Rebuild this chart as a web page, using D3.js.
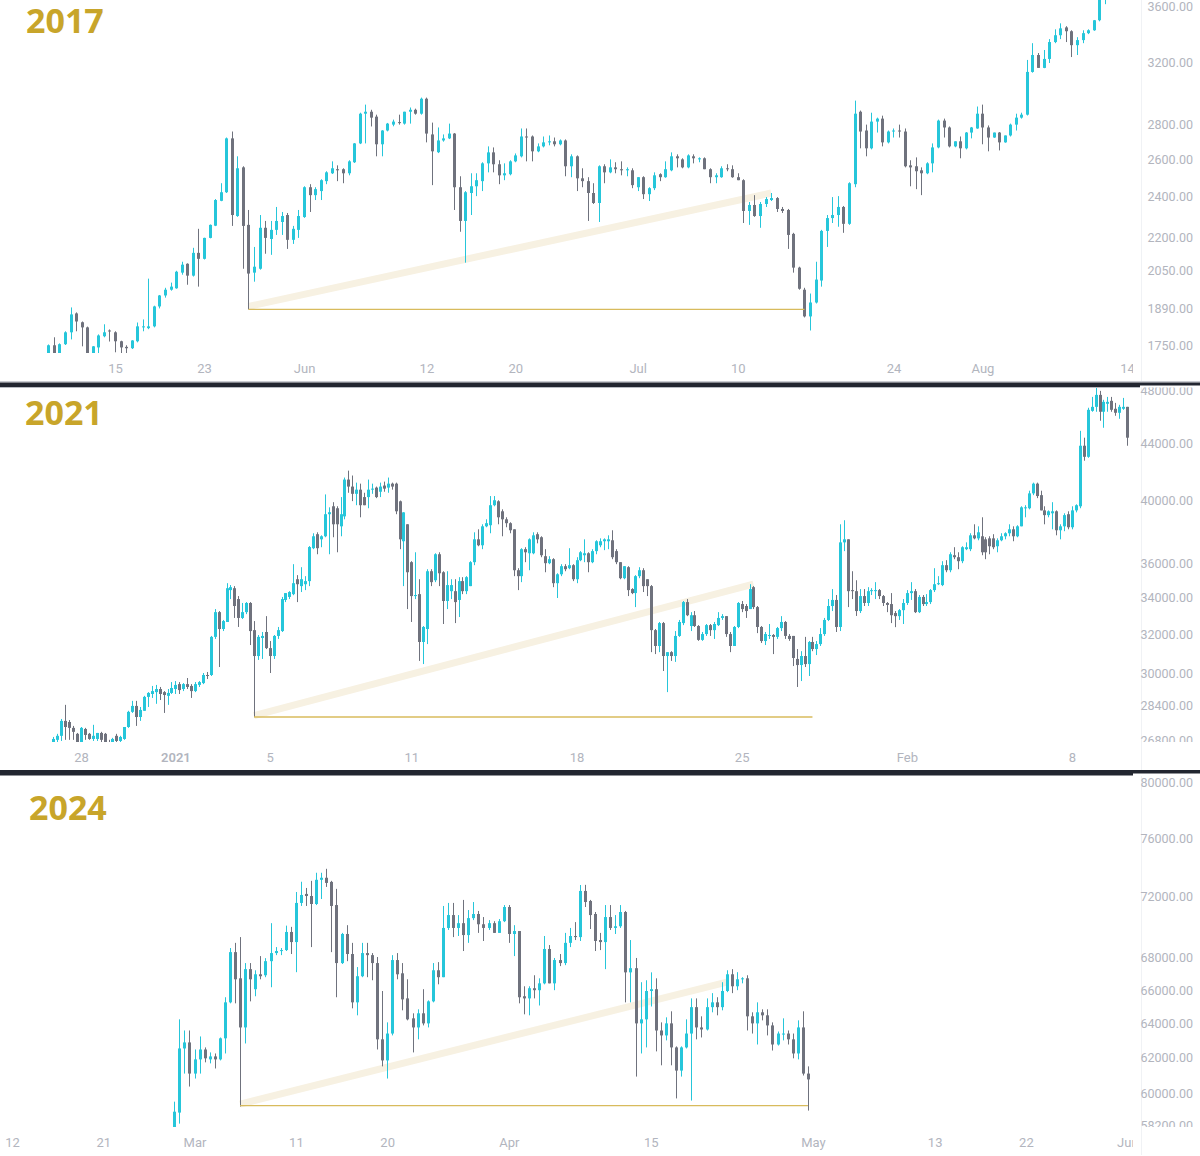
<!DOCTYPE html>
<html>
<head>
<meta charset="utf-8">
<script src="https://cdn.jsdelivr.net/npm/d3@7"></script>
<style>
  body { margin: 0; background: #fff; }
  svg { display: block; }
</style>
</head>
<body>
<svg id="chart" width="1200" height="1156"></svg>
<script>
// candles are [open, high, low, close]
var start2017 = '2017-05-09T00:00:00Z'
var candles2017 = [
[1712,1752,1700,1749],[1749,1779,1700,1715],[1715,1756,1705,1753],[1753,1802,1750,1798],[1798,1896,1771,1868],
[1872,1876,1802,1840],[1837,1840,1745,1817],[1817,1820,1700,1712],[1712,1746,1705,1745],[1741,1790,1712,1786],
[1783,1829,1779,1798],[1805,1809,1763,1802],[1798,1802,1723,1764],[1764,1766,1715,1741],[1743,1749,1720,1738],
[1738,1768,1735,1767],[1764,1836,1760,1821],[1817,1848,1802,1821],[1814,2016,1810,1821],[1821,1903,1817,1900],
[1900,1947,1892,1945],[1945,1977,1936,1969],[1969,1999,1965,1982],[1975,2050,1973,2046],[2042,2090,2033,2077],
[2081,2083,1990,2029],[2029,2153,2025,2130],[2130,2242,1982,2103],[2103,2200,2100,2199],[2199,2263,2197,2261],
[2257,2389,2255,2384],[2380,2471,2378,2424],[2424,2724,2420,2719],[2719,2759,2256,2309],[2304,2617,2300,2551],
[2556,2562,2059,2256],[2261,2334,1888,2038],[2042,2157,2003,2068],[2059,2309,2055,2247],[2247,2280,2126,2199],
[2194,2280,2121,2237],[2237,2349,2213,2280],[2275,2324,2213,2304],[2309,2319,2148,2190],[2190,2256,2171,2242],
[2237,2334,2199,2304],[2299,2455,2295,2450],[2450,2466,2324,2409],[2409,2450,2384,2440],[2430,2492,2384,2487],
[2482,2535,2466,2529],[2524,2589,2520,2551],[2546,2567,2482,2540],[2546,2551,2471,2524],[2524,2595,2513,2589],
[2584,2692,2580,2690],[2690,2872,2686,2866],[2866,2922,2690,2878],[2878,2890,2789,2842],[2848,2860,2617,2685],
[2685,2767,2617,2765],[2765,2810,2760,2806],[2800,2830,2790,2818],[2815,2860,2800,2810],[2806,2878,2800,2878],
[2878,2904,2806,2890],[2890,2897,2860,2866],[2866,2966,2860,2959],[2959,2966,2696,2747],[2742,2812,2461,2645],
[2640,2783,2635,2707],[2707,2742,2700,2719],[2719,2806,2715,2747],[2747,2750,2334,2450],[2450,2508,2228,2280],
[2280,2430,2086,2424],[2420,2524,2309,2455],[2455,2524,2404,2487],[2482,2584,2430,2578],[2578,2673,2529,2639],
[2639,2667,2529,2573],[2573,2595,2466,2513],[2513,2578,2487,2524],[2519,2595,2513,2589],[2589,2633,2584,2622],
[2617,2777,2611,2730],[2730,2777,2589,2724],[2730,2736,2589,2645],[2645,2690,2640,2673],[2673,2730,2667,2696],
[2696,2736,2679,2702],[2702,2724,2673,2685],[2685,2713,2679,2707],[2707,2713,2508,2562],[2562,2628,2503,2617],
[2617,2622,2430,2497],[2497,2551,2450,2482],[2482,2503,2280,2420],[2420,2471,2364,2369],[2369,2567,2275,2562],
[2562,2573,2471,2529],[2529,2600,2524,2556],[2556,2584,2524,2546],[2546,2589,2513,2540],[2540,2556,2508,2546],
[2540,2551,2445,2461],[2450,2503,2430,2503],[2503,2508,2389,2414],[2414,2450,2379,2445],[2445,2529,2435,2513],
[2519,2524,2482,2503],[2503,2589,2500,2546],[2540,2639,2535,2617],[2617,2628,2556,2606],[2600,2606,2551,2556],
[2556,2628,2551,2622],[2617,2628,2578,2606],[2600,2611,2584,2606],[2606,2611,2546,2546],[2546,2551,2471,2503],
[2503,2524,2471,2513],[2503,2562,2500,2551],[2551,2573,2535,2546],[2546,2567,2500,2503],[2503,2524,2487,2487],
[2487,2492,2270,2329],[2329,2374,2261,2359],[2359,2409,2300,2304],[2304,2374,2247,2364],[2364,2399,2349,2389],
[2384,2420,2379,2394],[2394,2399,2324,2339],[2339,2349,2319,2329],[2334,2339,2148,2213],[2218,2223,2042,2064],
[2064,2068,1969,1973],[1969,1977,1856,1860],[1860,1953,1805,1916],[1916,2090,1912,2012],[2008,2237,1982,2232],
[2232,2309,2157,2294],[2294,2399,2270,2309],[2309,2404,2252,2349],[2349,2354,2223,2266],[2266,2476,2261,2471],
[2466,2947,2450,2866],[2878,2885,2662,2759],[2765,2800,2617,2662],[2662,2872,2656,2818],[2818,2842,2753,2836],
[2836,2854,2673,2696],[2696,2765,2690,2759],[2759,2777,2724,2765],[2765,2800,2724,2759],[2759,2777,2556,2562],
[2567,2595,2455,2556],[2562,2611,2440,2535],[2540,2556,2409,2524],[2524,2584,2519,2578],[2578,2690,2529,2667],
[2667,2830,2662,2824],[2824,2836,2724,2783],[2783,2789,2667,2673],[2673,2702,2668,2702],[2702,2730,2606,2662],
[2662,2756,2656,2753],[2753,2786,2719,2783],[2777,2910,2775,2866],[2866,2922,2685,2783],[2783,2795,2645,2724],
[2724,2753,2722,2753],[2753,2756,2650,2696],[2696,2736,2694,2736],[2736,2806,2730,2800],[2800,2866,2765,2842],
[2842,2872,2836,2860],[2860,3214,2855,3133],[3133,3331,3128,3248],[3248,3262,3160,3160],[3160,3283,3158,3221],
[3221,3360,3193,3339],[3339,3431,3331,3388],[3388,3475,3360,3438],[3445,3454,3339,3417],[3417,3424,3234,3317],
[3317,3374,3248,3353],[3353,3424,3331,3403],[3403,3431,3396,3424],[3424,3500,3420,3498],[3498,3720,3490,3700],
[3700,3800,3620,3780]
]
var prices2017 = [3600, 3200, 2800, 2600, 2400, 2200, 2050, 1890, 1750]
var dates2017 = ['2017-05-15','2017-05-23','2017-06-01','2017-06-12','2017-06-20','2017-07-01','2017-07-10','2017-07-24','2017-08-01','2017-08-14']
var labels2017 = ['15','23','Jun','12','20','Jul','10','24','Aug','14']
var hline2017 = [[36, 1888], [136, 1888]]
var band2017 = [[36, 1900], [130, 2420]]

var start2021 = '2020-12-26T20:00:00Z'
var candles2021 = [
[26700,26970,26530,26880],[26840,27110,26660,27020],[27020,27790,26790,27700],[27700,28450,26840,27420],[27650,27740,26840,27380],
[27380,27470,26840,27200],[27110,27150,26620,26660],[26700,27420,26700,27380],[27330,27380,26840,27060],[27110,27150,26840,26880],
[26880,27520,26790,27020],[26880,27150,26790,27150],[27150,27200,26660,26840],[27110,27150,26620,26660],[26660,26840,26440,26620],
[26620,26930,26530,26880],[27020,27110,26660,26790],[26790,27020,26660,26970],[26880,27420,26840,27420],[27420,28170,27380,28120],
[28120,28640,28070,28400],[28400,28640,27470,27880],[27880,28350,27700,28210],[28170,28880,28170,28830],[28830,29060,28350,29020],
[28970,29360,28780,29110],[29060,29410,28500,29210],[29210,29310,28680,28970],[29060,29110,28070,28920],[28880,29210,28450,29020],
[29020,29550,28970,29260],[29210,29600,28970,29410],[29450,29550,28970,29160],[29210,29500,29110,29450],[29450,29750,29210,29310],
[29360,29450,28780,29110],[29110,29550,29060,29450],[29410,29600,29310,29550],[29500,30000,29450,29900],[29900,30050,29700,29850],
[29900,31910,29850,31860],[31860,33370,31750,33200],[33200,33260,30300,32280],[32280,32770,32170,32710],[32660,34840,32660,34550],
[34440,34730,33930,34610],[34550,34670,32880,33540],[33930,34100,32390,32880],[32880,33710,32820,33200],[33200,33760,33090,33710],
[33710,33760,31430,32170],[32220,32710,27880,30860],[30860,31960,30660,31860],[31800,32120,30710,31910],[32120,32980,31220,31270],
[31270,31640,30000,30860],[30860,31960,30710,31910],[31910,32390,31750,32220],[32170,34050,32120,33930],[33880,34270,33760,34270],
[34050,34380,33930,34330],[34210,35960,34150,34840],[35070,35310,33760,34780],[34670,35780,34330,35070],[34780,35250,34440,34960],
[34960,37060,34670,37000],[36930,37860,36870,37670],[37800,37920,36560,36930],[37480,37730,36990,37670],[37670,40390,37610,39080],
[39080,39530,36560,39210],[39600,39870,37610,38430],[39470,39600,36680,38430],[38300,40210,37670,39080],[38940,41540,38750,41400],
[41400,42020,40500,40920],[40920,41680,39940,40430],[40430,41190,39670,40710],[40710,41120,38880,39670],[40210,40500,39670,39670],
[40210,41400,39470,40710],[40710,41120,40430,40780],[40850,40920,40140,40210],[40570,41190,40210,40920],[40990,41260,40570,40780],
[40850,41540,40500,41120],[41120,41190,40710,40920],[41120,41190,39080,39270],[39930,39980,36870,37480],[37360,39210,34670,39200],
[38430,38430,33370,35480],[36080,36140,32660,34100],[34100,36680,33930,34160],[34210,35070,30610,31590],[31590,32440,30450,32390],
[32280,35660,31480,35540],[35540,35660,34670,34900],[35010,36620,34900,36560],[36560,36680,34670,35420],[35480,35540,32550,33820],
[33820,35540,33370,34730],[34380,35070,33930,34730],[34380,35070,32600,33760],[33880,35190,32930,34960],[34960,35190,34210,34380],
[34380,35250,34210,35190],[34670,36140,34670,36080],[36080,37920,35900,37480],[37480,38110,37050,37110],[37110,38430,36870,38300],
[38300,38750,38240,38500],[38370,40280,37860,39670],[39670,40280,39600,40000],[39930,40000,38430,38880],[39270,39400,37670,38750],
[38750,38880,38240,38500],[38500,38560,37860,38050],[38110,38110,35250,35600],[35600,35720,34440,35250],[35250,36930,34900,36870],
[36870,36990,36080,36680],[36620,37540,35600,37480],[36620,37920,36560,37730],[37800,37920,37230,37480],[37610,37670,36380,36500],
[36440,36870,35480,36020],[36020,36440,35960,36260],[36260,36320,34610,34840],[34840,35420,33990,35360],[35360,35960,35250,35840],
[35840,35960,35540,35660],[35720,36930,35660,35900],[35900,35960,34960,35070],[35070,36380,34840,36200],[36200,36750,36140,36680],
[36500,37480,36080,36620],[36620,36680,35480,36080],[36080,36870,36020,36750],[36750,37420,36560,37360],[37110,37540,36990,37360],
[37360,37540,36810,37480],[37360,37730,36870,37480],[37420,38050,36260,36380],[36750,36870,35960,36080],[36080,36080,35070,35130],
[35130,35840,35070,35840],[35780,35840,34100,34440],[34500,34550,34210,34270],[34270,35310,33480,35250],[35250,35780,35130,35600],
[35600,35720,34330,34670],[35070,35070,34100,34670],[34670,34730,31060,32220],[32220,32280,30960,31380],[31380,32660,31060,32600],
[32600,32660,30100,30860],[30860,31060,29060,31060],[31060,31110,30610,30860],[30860,32170,30560,31910],[31910,32770,31860,32660],
[32600,33820,32490,33760],[33760,33930,32980,33030],[32440,33200,32170,33030],[33030,33260,32390,32440],[32440,32490,31650,31700],
[31700,32120,31650,32010],[32010,32550,31910,32490],[32490,32550,31910,32220],[32220,32660,31750,32550],[32490,33200,32440,32880],
[32880,33090,32770,32980],[32980,32980,31860,32010],[32010,32120,31060,31380],[31380,32440,31380,32390],[32390,33760,32330,33710],
[33650,33820,33200,33370],[33540,33650,32880,33260],[33370,34780,33370,34500],[34610,34670,33370,33480],[33480,33540,32060,32390],
[32390,32440,31540,31640],[31640,32120,31430,32010],[31910,32550,31750,31960],[31960,32010,30960,31860],[31860,32390,31750,32330],
[32330,32980,32170,32660],[32660,32710,31750,31910],[31910,32010,31650,31750],[31910,31910,30350,30760],[30710,31220,29310,30400],
[30400,31110,29600,30860],[30860,31860,30300,30450],[30450,31640,29850,31590],[31590,31860,31110,31220],[31220,31640,30910,31480],
[31480,32330,31380,32010],[32010,32880,31910,32770],[32770,33930,32710,33540],[33540,34500,33260,33880],[33880,34160,32120,32390],
[32390,38430,32170,37290],[37290,38690,36750,37480],[37480,37480,33480,34380],[34440,35540,33930,34380],[34380,35010,32990,33260],
[33260,34500,33150,34100],[34100,34500,33540,33710],[33710,34610,33540,34380],[34380,34550,34160,34440],[34380,34900,33930,34440],
[34440,34500,33930,34100],[34100,34160,33540,33710],[33710,33760,33200,33600],[33650,34270,32600,33030],[33150,33260,32380,32980],
[32980,33370,32770,33310],[33310,33930,32550,33710],[33710,34440,33600,34270],[34270,34900,33880,34380],[34380,34500,33150,33200],
[33200,34160,33150,34050],[34050,34160,33540,33650],[33650,34210,33540,33760],[33760,34500,33650,34440],[34440,35720,34330,34780],
[34780,35250,34730,34840],[34730,36140,34670,35900],[35900,36200,35480,35600],[35600,36680,35480,36560],[36500,36990,36260,36380],
[36380,36680,35660,36140],[36140,37050,36020,36990],[36870,37290,36810,36990],[36870,37860,36750,37730],[37730,38430,37480,37540],
[37540,38300,37420,37920],[37670,38880,36500,36680],[37480,37610,36260,36680],[37540,37670,36560,37050],[37540,37800,36870,36990],
[37050,37540,36680,37420],[37420,37860,37360,37670],[37670,37920,37480,37860],[37860,38430,37670,38110],[38110,38300,37360,37670],
[37670,38370,37610,38300],[38300,39600,38300,39530],[39470,39670,38880,39530],[39470,40640,39400,40460],[40460,41190,40340,41120],
[41120,41190,40140,40280],[40340,40640,39330,39330],[39330,39600,38430,39020],[39020,39330,38880,39270],[39140,39870,38110,39270],
[39270,39330,37730,38050],[38050,38430,37480,38300],[38300,39140,37990,39020],[39080,39270,38110,38240],[38240,39600,38110,39330],
[39330,39730,39200,39670],[39600,44900,39470,43800],[43800,44390,42720,43000],[43000,46660,42930,46500],[46420,47510,46350,46730],
[46730,48310,46350,47670],[47670,47990,45660,46350],[46350,47280,45130,47120],[46970,47510,46350,47120],[47200,47510,46350,46500],
[46580,47040,46040,46270],[46270,46890,45810,46730],[46580,47430,46500,46730],[46730,46730,43800,44390]
]
var prices2021 = [48000, 44000, 40000, 36000, 34000, 32000, 30000, 28400, 26800]
var dates2021 = ['2020-12-28','2021-01-01','2021-01-05','2021-01-11','2021-01-18','2021-01-25','2021-02-01','2021-02-08']
var labels2021 = ['28','2021','5','11','18','25','Feb','8']
var hline2021 = [[51, 27880], [193, 27880]]
var band2021 = [[51, 27950], [178, 34780]]

var start2024 = '2024-02-28T00:00:00Z'
var candles2024 = [
[57900,59520,57800,58970],[58920,64240,58320,62530],[62530,63580,61090,62880],[62880,63580,60360,61090],[61090,62470,60810,61900],
[61900,63230,61090,62470],[62470,62590,61730,61960],[61900,62300,61670,62070],[62070,62240,61380,61900],[61900,63170,61840,63120],
[63120,65570,62240,65260],[65260,68630,65200,68370],[68370,68960,65200,66670],[66730,69330,59250,63760],[63760,67680,62820,67300],
[67300,67680,65320,66670],[66060,67230,65630,66980],[66980,68120,66670,66860],[66920,67990,66800,67800],[67800,70230,66180,68310],
[68310,68690,68180,68440],[68440,68630,68180,68500],[68500,70070,68440,69660],[69660,69990,68250,69010],[69010,72290,67110,71560],
[71560,72980,71360,72090],[72160,72560,71360,72020],[72020,73040,68690,71490],[71490,73590,71420,73110],[73110,73590,71820,73250],
[73250,73860,72630,72900],[72970,73040,68370,71360],[71420,72500,65570,67680],[67680,69600,67620,69530],[69530,70100,67800,68250],
[68250,68960,64900,65260],[65260,67430,64480,66860],[66860,68960,66800,68310],[68310,68960,66800,68180],[68180,68310,66610,67680],
[67680,68060,62470,63060],[63060,65950,61500,61840],[61840,64060,60810,63400],[63400,68180,63290,67870],[67870,68310,66670,66980],
[67040,67680,64780,65440],[65500,66670,64180,64240],[64300,64600,62300,63760],[63760,64840,63060,64600],[64600,66060,63880,64000],
[64000,65380,63760,65320],[65320,67680,65260,67230],[67230,67740,66360,66800],[66800,71360,66800,69920],[69920,71560,69790,70760],
[70760,71560,69330,69920],[69920,70760,69400,70230],[70230,71760,68440,69460],[69460,71090,68960,70560],[70560,71620,70430,70830],
[70830,71030,69600,70160],[70160,70630,69080,69920],[69920,70430,69790,70230],[70230,70360,69600,69600],[69600,70500,69600,70360],
[70360,71420,70300,71290],[71290,71420,68960,69530],[69530,70100,68120,69720],[69720,69720,65200,65570],[65630,66240,64540,65500],
[65500,66240,64480,66120],[66120,66920,65500,66000],[66000,66730,65070,66420],[66420,69400,66360,68570],[68570,68820,66420,66420],
[66420,68000,66000,67870],[67870,68250,67490,67680],[67680,69600,67550,68960],[68960,69920,68690,69400],[69400,70300,69140,69330],
[69330,72760,69080,72360],[72360,72770,71290,71620],[71690,71760,69850,70760],[70830,70960,68440,69080],[69140,69600,68500,69010],
[69010,71420,67300,70630],[70630,71420,69790,69920],[69920,70760,69530,70030],[70030,71420,69920,70960],[70960,71030,65260,67100],
[67100,69140,65260,67360],[67360,68000,60920,64000],[64000,66490,62240,64240],[64240,66610,62590,65950],[65950,67100,65010,66060],
[66060,66730,62360,63580],[63580,64060,61560,63290],[63290,64360,63000,64000],[64000,64720,61560,62590],[62590,62650,59700,61260],
[61260,62650,60920,62590],[62590,64240,62530,63400],[63400,65500,59580,64970],[64970,65500,63060,63760],[63760,64420,63170,63640],
[63640,65500,63580,64970],[64970,65820,64660,65260],[65260,65570,64480,64970],[64970,66490,64780,65950],[65950,67230,65880,66980],
[66980,67300,65820,66240],[66240,67110,66000,66670],[66670,66800,66420,66730],[66730,66920,63580,64420],[64420,64660,63400,64000],
[64000,65260,62760,64660],[64660,64840,64180,64480],[64480,64840,63290,63880],[63880,64060,62410,62760],[62760,63520,62700,63400],
[63340,64300,63000,63400],[63400,63580,62760,63060],[63060,63400,61960,62240],[62240,64180,61900,63760],[63760,64720,60980,61090],
[61090,61500,59030,60760]
]
var prices2024 = [80000, 76000, 72000, 68000, 66000, 64000, 62000, 60000, 58200]
var dates2024 = ['2024-02-12','2024-02-21','2024-03-01','2024-03-11','2024-03-20','2024-04-01','2024-04-15','2024-05-01','2024-05-13','2024-05-22','2024-06-01']
var labels2024 = ['12','21','Mar','11','20','Apr','15','May','13','22','Jun']
var hline2024 = [[13, 59300], [125, 59300]]
var band2024 = [[13, 59380], [109, 66500]]

var upColor = '#26c6da',
    downColor = '#6f727d',
    axisColor = '#b2b5be',
    gold = '#c8a52a'

var panels = [
  {title: '2017', data: candles2017, start: start2017, stepH: 12, top: 0, bottom: 353,
   titleX: 26, titleY: 33, xDomain: ['2017-05-15', '2017-08-14'], xRange: [115, 1127],
   yDomain: [1750, 3200], yRange: [345, 62], prices: prices2017, dates: dates2017,
   labels: labels2017, axisY: 363.5, hline: hline2017, band: band2017},
  {title: '2021', data: candles2021, start: start2021, stepH: 4, top: 387.5, bottom: 742,
   titleX: 25, titleY: 425, xDomain: ['2020-12-28', '2021-02-08'], xRange: [81, 1072],
   yDomain: [30000, 44000], yRange: [673, 443], prices: prices2021, dates: dates2021,
   labels: labels2021, axisY: 752.5, hline: hline2021, band: band2021},
  {title: '2024', data: candles2024, start: start2024, stepH: 12, top: 776, bottom: 1127,
   titleX: 29, titleY: 820, xDomain: ['2024-02-12', '2024-05-01'], xRange: [12, 813],
   yDomain: [60000, 76000], yRange: [1093, 838], prices: prices2024, dates: dates2024,
   labels: labels2024, axisY: 1137.5, hline: hline2024, band: band2024}
]

var svg = d3.select('#chart')
var defs = svg.append('defs')

panels.forEach(function(p, k){
  var x = d3.scaleUtc().domain(p.xDomain.map(function(d){ return new Date(d) })).range(p.xRange)
  var y = d3.scaleLog().domain(p.yDomain).range(p.yRange)
  var t0 = new Date(p.start).getTime()
  var cx = function(i){ return x(new Date(t0 + i * p.stepH * 36e5)) }

  defs.append('clipPath').attr('id', 'plot' + k)
    .append('rect').attr('x', 0).attr('y', p.top).attr('width', 1135).attr('height', p.bottom - p.top)
  defs.append('clipPath').attr('id', 'price' + k)
    .append('rect').attr('x', 1135).attr('y', p.top).attr('width', 65).attr('height', p.bottom - p.top)
  defs.append('clipPath').attr('id', 'date' + k)
    .append('rect').attr('x', 0).attr('y', p.bottom).attr('width', 1133).attr('height', 30)

  // faint border between plot and price scale
  svg.append('line')
      .attr('x1', 1141.5).attr('x2', 1141.5)
      .attr('y1', p.top).attr('y2', p.bottom + 28)
      .attr('stroke', '#f0f2f5')

  var plot = svg.append('g').attr('clip-path', 'url(#plot' + k + ')')

  var line = d3.line()
      .x(function(d){ return cx(d[0]) })
      .y(function(d){ return y(d[1]) })

  // pale trend band under the candles
  plot.append('path')
      .datum(p.band)
      .attr('d', line)
      .attr('fill', 'none')
      .attr('stroke', '#f7f1e2')
      .attr('stroke-width', 7)

  var candle = plot.selectAll('g.candle')
      .data(p.data)
      .enter().append('g')
      .attr('class', 'candle')

  candle.append('line')
      .attr('x1', function(d, i){ return Math.round(cx(i)) + 0.5 })
      .attr('x2', function(d, i){ return Math.round(cx(i)) + 0.5 })
      .attr('y1', function(d){ return y(d[1]) })
      .attr('y2', function(d){ return y(d[2]) })
      .attr('stroke', function(d){ return d[3] >= d[0] ? upColor : downColor })
      .attr('stroke-width', 1)

  candle.append('rect')
      .attr('x', function(d, i){ return Math.round(cx(i)) - 1 })
      .attr('width', 3)
      .attr('y', function(d){ return y(Math.max(d[0], d[3])) })
      .attr('height', function(d){ return Math.max(1, Math.abs(y(d[0]) - y(d[3]))) })
      .attr('fill', function(d){ return d[3] >= d[0] ? upColor : downColor })

  plot.append('path')
      .datum(p.hline)
      .attr('d', line)
      .attr('fill', 'none')
      .attr('stroke', '#d8bb5c')
      .attr('stroke-width', 1.4)

  // price scale on the right
  var pa = svg.append('g').attr('clip-path', 'url(#price' + k + ')')
    .append('g')
      .attr('transform', 'translate(1193,0)')
      .call(d3.axisLeft(y).tickValues(p.prices).tickFormat(d3.format('.2f')).tickSize(0).tickPadding(0))
  pa.select('.domain').remove()
  pa.attr('font-family', 'Roboto, sans-serif').attr('font-size', 12.5)
  pa.selectAll('text').attr('fill', axisColor)

  // time scale
  var da = svg.append('g').attr('clip-path', 'url(#date' + k + ')')
    .append('g')
      .attr('transform', 'translate(0,' + p.axisY + ')')
      .call(d3.axisBottom(x)
        .tickValues(p.dates.map(function(d){ return new Date(d) }))
        .tickFormat(function(d, i){ return p.labels[i] })
        .tickSize(0).tickPadding(0))
  da.select('.domain').remove()
  da.attr('font-family', 'Roboto, sans-serif').attr('font-size', 13)
  da.selectAll('text')
      .attr('fill', axisColor)
      .attr('font-weight', function(d, i){ return /^\d{4}$/.test(p.labels[i]) ? 600 : 400 })

  svg.append('text')
      .attr('x', p.titleX)
      .attr('y', p.titleY)
      .attr('fill', gold)
      .style('font', 'bold 34px "Open Sans", sans-serif')
      .text(p.title)
})

// separators between the three charts
svg.append('rect').attr('x', 0).attr('y', 381).attr('width', 1200).attr('height', 1.5).attr('fill', '#c9cbd1')
svg.append('rect').attr('x', 0).attr('y', 382.5).attr('width', 1140).attr('height', 4.5).attr('fill', '#222630')
svg.append('rect').attr('x', 1140).attr('y', 382.5).attr('width', 60).attr('height', 3).attr('fill', '#222630')
svg.append('rect').attr('x', 0).attr('y', 387).attr('width', 1140).attr('height', 1).attr('fill', '#b9bcc3')
svg.append('rect').attr('x', 0).attr('y', 770).attr('width', 1133).attr('height', 5.5).attr('fill', '#222630')
svg.append('rect').attr('x', 1133).attr('y', 770).attr('width', 67).attr('height', 3.5).attr('fill', '#222630')
</script>
</body>
</html>
